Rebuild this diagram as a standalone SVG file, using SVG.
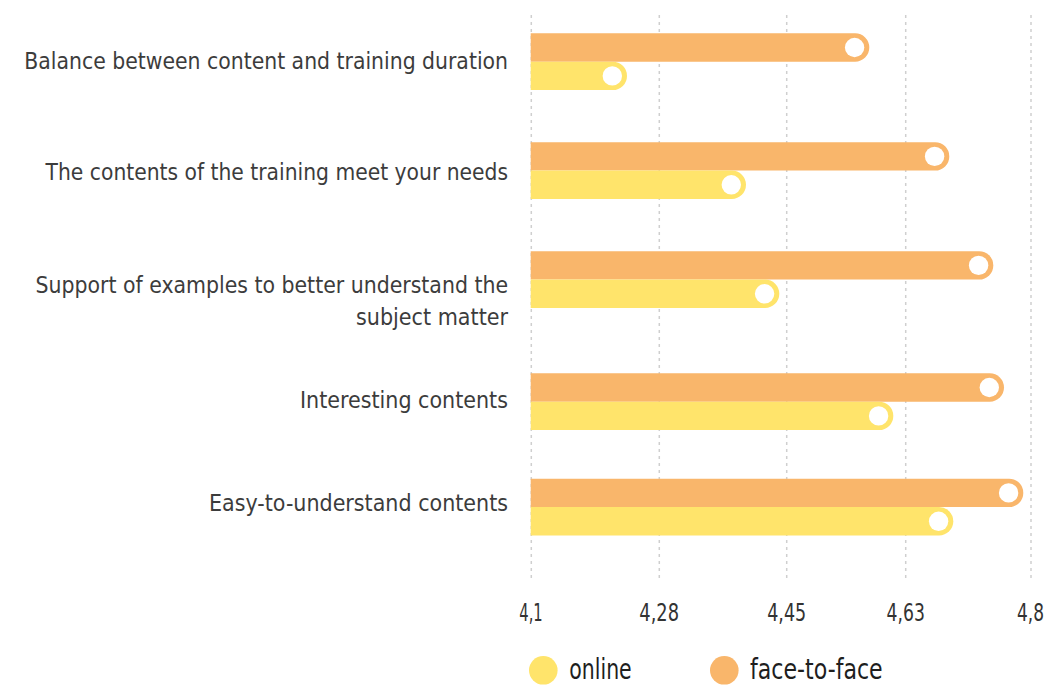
<svg xmlns="http://www.w3.org/2000/svg" width="1058" height="685" viewBox="0 0 1058 685">
<style>
.grid{stroke:#cfcfcf;stroke-width:1.5;stroke-dasharray:3 4;fill:none}
.ftf{fill:#F9B66B}
.onl{fill:#FFE46B}
.dot{fill:#ffffff}
.lbl{font-family:"Liberation Sans Narrow","DejaVu Sans Condensed","Liberation Sans",sans-serif;font-size:23.5px;fill:#3c3c3c;text-anchor:end}
.ax{font-family:"Liberation Sans Narrow","DejaVu Sans Condensed","Liberation Sans",sans-serif;font-size:24.5px;fill:#333333;text-anchor:middle}
.lg{font-family:"Liberation Sans Narrow","DejaVu Sans Condensed","Liberation Sans",sans-serif;font-size:28px;fill:#1e1e1e}
</style>
<rect width="1058" height="685" fill="#ffffff"/>
<g id="gridlines">
<line class="grid" x1="531.3" y1="15" x2="531.3" y2="582"/>
<line class="grid" x1="659.3" y1="15" x2="659.3" y2="582"/>
<line class="grid" x1="786.7" y1="15" x2="786.7" y2="582"/>
<line class="grid" x1="905.7" y1="15" x2="905.7" y2="582"/>
<line class="grid" x1="1031" y1="15" x2="1031" y2="582"/>
</g>
<g id="connectors"></g>
<g id="item-balance">
<path class="ftf" d="M530.7,33.3 H855.1 A14.2,14.2 0 0 1 855.1,61.7 H530.7 Z"/>
<path class="onl" d="M530.7,61.7 H612.8 A14.2,14.2 0 0 1 612.8,90.1 H530.7 Z"/>
<circle class="dot" cx="854.6" cy="47.5" r="9.7"/>
<circle class="dot" cx="612.3" cy="75.9" r="9.7"/>
<text class="lbl" x="508" y="69" textLength="483.7" lengthAdjust="spacingAndGlyphs">Balance between content and training duration</text>
</g>
<g id="item-needs">
<path class="ftf" d="M530.7,142.2 H935.1 A14.2,14.2 0 0 1 935.1,170.6 H530.7 Z"/>
<path class="onl" d="M530.7,170.6 H731.8 A14.2,14.2 0 0 1 731.8,199 H530.7 Z"/>
<circle class="dot" cx="934.6" cy="156.4" r="9.7"/>
<circle class="dot" cx="731.3" cy="184.8" r="9.7"/>
<text class="lbl" x="508" y="180" textLength="462.4" lengthAdjust="spacingAndGlyphs">The contents of the training meet your needs</text>
</g>
<g id="item-examples">
<path class="ftf" d="M530.7,251.2 H979.1 A14.2,14.2 0 0 1 979.1,279.6 H530.7 Z"/>
<path class="onl" d="M530.7,279.6 H765.1 A14.2,14.2 0 0 1 765.1,308 H530.7 Z"/>
<circle class="dot" cx="978.6" cy="265.4" r="9.7"/>
<circle class="dot" cx="764.6" cy="293.8" r="9.7"/>
<text class="lbl" x="508" y="292.5" textLength="472.5" lengthAdjust="spacingAndGlyphs">Support of examples to better understand the</text>
<text class="lbl" x="508" y="324.5" textLength="152" lengthAdjust="spacingAndGlyphs">subject matter</text>
</g>
<g id="item-interesting">
<path class="ftf" d="M530.7,373.3 H989.8 A14.2,14.2 0 0 1 989.8,401.7 H530.7 Z"/>
<path class="onl" d="M530.7,401.7 H879.1 A14.2,14.2 0 0 1 879.1,430.1 H530.7 Z"/>
<circle class="dot" cx="989.3" cy="387.5" r="9.7"/>
<circle class="dot" cx="878.6" cy="415.9" r="9.7"/>
<text class="lbl" x="508" y="408" textLength="208" lengthAdjust="spacingAndGlyphs">Interesting contents</text>
</g>
<g id="item-easy">
<path class="ftf" d="M530.7,478.7 H1009.1 A14.2,14.2 0 0 1 1009.1,507.1 H530.7 Z"/>
<path class="onl" d="M530.7,507.1 H939.1 A14.2,14.2 0 0 1 939.1,535.5 H530.7 Z"/>
<circle class="dot" cx="1008.6" cy="492.9" r="9.7"/>
<circle class="dot" cx="938.6" cy="521.3" r="9.7"/>
<text class="lbl" x="508" y="511" textLength="299" lengthAdjust="spacingAndGlyphs">Easy-to-understand contents</text>
</g>
<g id="axis">
<text class="ax" x="531" y="620.5" textLength="23.4" lengthAdjust="spacingAndGlyphs">4,1</text>
<text class="ax" x="659.2" y="620.5" textLength="39.7" lengthAdjust="spacingAndGlyphs">4,28</text>
<text class="ax" x="786.7" y="620.5" textLength="39" lengthAdjust="spacingAndGlyphs">4,45</text>
<text class="ax" x="905.7" y="620.5" textLength="38.3" lengthAdjust="spacingAndGlyphs">4,63</text>
<text class="ax" x="1030.5" y="620.5" textLength="27" lengthAdjust="spacingAndGlyphs">4,8</text>
</g>
<g id="legend">
<circle class="onl" cx="543.3" cy="670.3" r="14.3"/>
<text class="lg" x="569.3" y="679.3" textLength="62.4" lengthAdjust="spacingAndGlyphs">online</text>
<circle class="ftf" cx="724.3" cy="670.3" r="14.3"/>
<text class="lg" x="750" y="679.3" textLength="132.7" lengthAdjust="spacingAndGlyphs">face-to-face</text>
</g>
</svg>
